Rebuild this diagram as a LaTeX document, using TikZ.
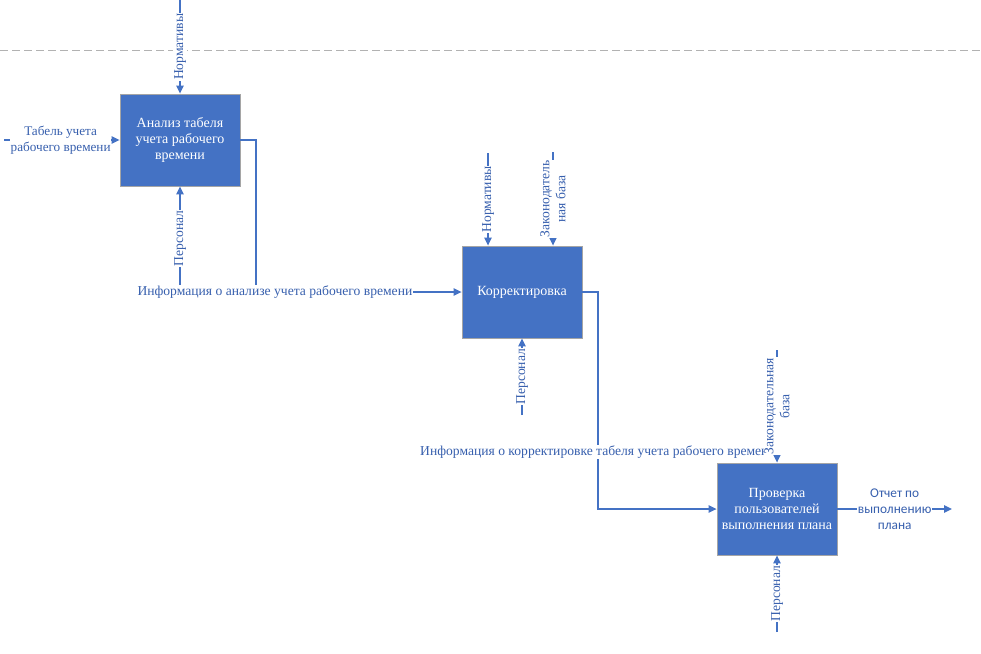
\documentclass[tikz,border=0pt]{standalone}
\usepackage{fontspec}
\setmainfont{Liberation Serif}
\newfontfamily\calibrifont{Carlito}
\usetikzlibrary{positioning,arrows.meta}
\definecolor{boxblue}{HTML}{4472C4}
\definecolor{boxedge}{HTML}{A5A5A5}
\definecolor{labelblue}{HTML}{3860AE}

\begin{document}
\begin{tikzpicture}[x=0.75pt,y=-0.75pt,
                       func node/.style={rectangle,fill=boxblue,draw=boxedge,line width=0.6pt,
                                         minimum width=90pt,minimum height=69pt,inner sep=2pt,
                                         text=white,align=center,font=\fontsize{10.5}{12}\selectfont},
                       flow/.style={draw=boxblue,line width=1.1pt,-{Triangle[length=6pt,width=5.5pt]}},
                       lbl/.style={fill=white,inner sep=0.5pt,text=labelblue,align=center,
                                   font=\fontsize{10.2}{12}\selectfont},
                       dashed line/.style={draw=gray!60,line width=0.7pt,dash pattern=on 6pt off 3pt}
                      ]
   \useasboundingbox (0,0) rectangle (981,653);
   \draw[dashed line] (0,50) -- (981,50);

   \node[func node] (analiz) at (180,140) {Анализ табеля\\учета рабочего\\времени};
   \node[func node] (korr)   at (522,292) {Корректировка};
   \node[func node] (prov)   at (777,509) {Проверка\\пользователей\\выполнения плана};

   \coordinate (norm1)  at (180,0);
   \coordinate (tabel)  at (4,140);
   \coordinate (pers1)  at (180,290);
   \coordinate (turn1)  at (256,140);
   \coordinate (norm2)  at (488,153);
   \coordinate (zak2)   at (553,152);
   \coordinate (pers2)  at (522,415);
   \coordinate (turn2)  at (598,292);
   \coordinate (zak3)   at (777,350);
   \coordinate (pers3)  at (777,632);
   \coordinate (otchet) at (952,509);

   % first block
   \draw[flow] (norm1) -- node[lbl,rotate=90] {Нормативы} (analiz);
   \draw[flow] (tabel) -- node[lbl,pos=0.49,font=\fontsize{9.9}{12}\selectfont] {Табель учета\\рабочего времени} (analiz);
   \draw[flow] (pers1) -- node[lbl,rotate=90] {Персонал} (analiz);
   \draw[flow] (analiz.east) -- (turn1) |- node[lbl,pos=0.546] {Информация о анализе учета рабочего времени} (korr);

   % second block
   \draw[flow] (norm2) -- node[lbl,rotate=90] {Нормативы} (norm2 |- korr.north);
   \draw[flow] (zak2) -- node[lbl,rotate=90] {Законодатель\\ная база} (zak2 |- korr.north);
   \draw[flow] (pers2) -- node[lbl,rotate=90] {Персонал} (korr);
   \draw[flow] (korr.east) -- (turn2) |- node[lbl,pos=0.369] {Информация о корректировке табеля учета рабочего времени} (prov);

   % third block
   \draw[flow] (zak3) -- node[lbl,rotate=90] {Законодательная\\база} (prov);
   \draw[flow] (pers3) -- node[lbl,rotate=90] {Персонал} (prov);
   \draw[flow] (prov) -- node[lbl,font=\calibrifont\fontsize{10}{12}\selectfont] {Отчет по\\выполнению\\плана} (otchet);
\end{tikzpicture}
\end{document}
